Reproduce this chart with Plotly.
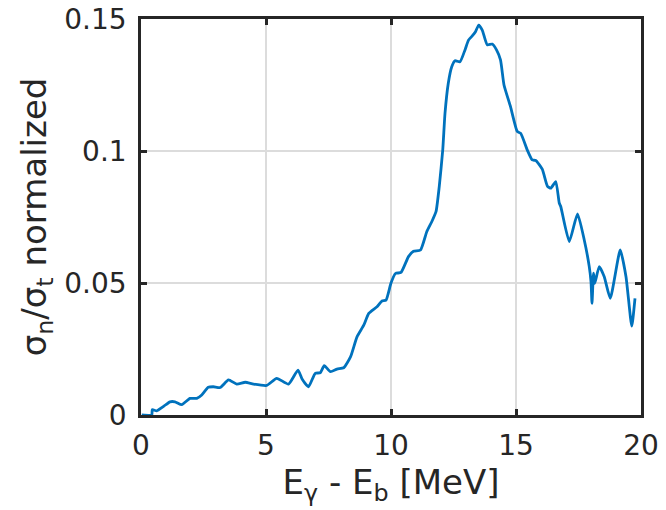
import plotly.graph_objects as go

energy = [0.03, 0.43, 0.45, 0.63, 0.89, 1.16, 1.36, 1.63, 1.96, 2.23, 2.43, 2.69, 2.89, 3.17, 3.5, 3.83,
          4.17, 4.5, 5.03, 5.43, 5.9, 6.28, 6.45, 6.7, 6.97, 7.17, 7.33, 7.58, 7.84, 8.11, 8.38, 8.64,
          8.91, 9.11, 9.44, 9.64, 9.8, 10.0, 10.18, 10.4, 10.7, 10.9, 11.18, 11.43, 11.63, 11.8, 11.93,
          12.07, 12.16, 12.29, 12.43, 12.56, 12.76, 12.96, 13.1, 13.25, 13.38, 13.51, 13.65, 13.85, 14.05,
          14.22, 14.38, 14.52, 14.78, 15.05, 15.19, 15.45, 15.65, 15.79, 16.05, 16.26, 16.39, 16.59, 16.73,
          16.79, 17.13, 17.46, 17.73, 17.93, 18.0, 18.04, 18.1, 18.15, 18.33, 18.53, 18.77, 19.17, 19.4,
          19.63, 19.76]
ratio = [0.0, 0.0, 0.002, 0.0016, 0.0032, 0.005, 0.005, 0.0039, 0.0063, 0.0063, 0.0076, 0.0105, 0.0107,
         0.0104, 0.0133, 0.0117, 0.0124, 0.0117, 0.0112, 0.0139, 0.0117, 0.017, 0.0135, 0.0107, 0.0158,
         0.016, 0.0187, 0.0164, 0.0174, 0.0179, 0.022, 0.0296, 0.034, 0.0385, 0.041, 0.0432, 0.0435, 0.05,
         0.0536, 0.054, 0.06, 0.062, 0.0625, 0.0694, 0.0732, 0.077, 0.0865, 0.1004, 0.1143, 0.1256,
         0.1319, 0.1342, 0.1338, 0.1383, 0.142, 0.1436, 0.1452, 0.1477, 0.1458, 0.1402, 0.1405, 0.1383,
         0.1345, 0.125, 0.1168, 0.1074, 0.1067, 0.1004, 0.0966, 0.0964, 0.0931, 0.0866, 0.0859, 0.0884,
         0.0803, 0.079, 0.0657, 0.0762, 0.0663, 0.0562, 0.0505, 0.0423, 0.0537, 0.0499, 0.0562, 0.0524,
         0.0442, 0.0625, 0.0524, 0.0337, 0.0442]

x_ticks = [0, 5, 10, 15, 20]
y_ticks = [0, 0.05, 0.1, 0.15]
y_tick_labels = ["0", "0.05", "0.1", "0.15"]

fig = go.Figure()
fig.add_trace(go.Scatter(x=energy, y=ratio, mode="lines",
                         line=dict(color="#0072BD", width=2.8, shape="spline", smoothing=0.5),
                         showlegend=False))

axis_common = dict(showline=True, linecolor="#262626", linewidth=2.5, mirror="ticks",
                   ticks="inside", ticklen=6, tickwidth=2.5, tickcolor="#262626",
                   showgrid=True, gridcolor="#dcdcdc", gridwidth=2, zeroline=False,
                   automargin=False,
                   tickfont=dict(family="DejaVu Sans", size=28, color="#262626"))

fig.update_xaxes(range=[0, 20], tickvals=x_ticks, ticktext=[str(v) for v in x_ticks],
                 ticklabelstandoff=4,
                 title=dict(text="E<sub>γ</sub> - E<sub>b</sub> [MeV]", standoff=4,
                            font=dict(family="DejaVu Sans", size=34, color="#262626")),
                 **axis_common)
fig.update_yaxes(range=[0, 0.15], tickvals=y_ticks, ticktext=y_tick_labels,
                 ticklabelstandoff=6,
                 title=dict(text="σ<sub>n</sub>/σ<sub>t</sub> normalized", standoff=8,
                            font=dict(family="DejaVu Sans", size=34, color="#262626")),
                 **axis_common)

fig.update_layout(width=666, height=510, margin=dict(l=141, r=25, t=19, b=95),
                  plot_bgcolor="white", paper_bgcolor="white")

fig.write_html("out.html")
